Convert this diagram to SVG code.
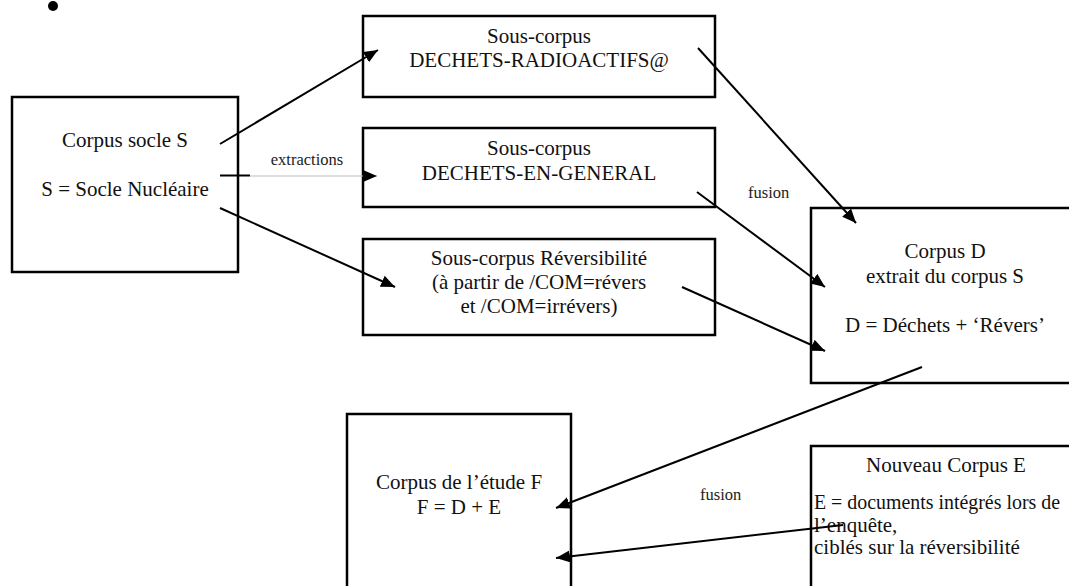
<svg xmlns="http://www.w3.org/2000/svg" width="1069" height="586" viewBox="0 0 1069 586">
<style>
.box{fill:#fff;stroke:#000;stroke-width:2.5}
.t{font-family:"Liberation Serif","Times New Roman",serif;font-size:21px;fill:#111}
.c{text-anchor:middle}
.s{font-family:"Liberation Serif","Times New Roman",serif;font-size:16.5px;fill:#222}
.ln{fill:none;stroke:#000;stroke-width:2}
</style>
<defs>
<marker id="ah" markerUnits="userSpaceOnUse" markerWidth="16" markerHeight="14" refX="14" refY="6" orient="auto">
<path d="M0,0 L14,6 L0,12 Z" fill="#000"/>
</marker>
</defs>
<rect width="1069" height="586" fill="#fff"/>
<circle cx="53" cy="6" r="5" fill="#000"/>

<g id="nodeS">
<rect class="box" x="12" y="97" width="226" height="175"/>
<text class="t c" x="125" y="147">Corpus socle S</text>
<text class="t c" x="125" y="196">S = Socle Nucléaire</text>
</g>
<g id="nodeRadio">
<rect class="box" x="363" y="16" width="352" height="81"/>
<text class="t c" x="539" y="43">Sous-corpus</text>
<text class="t c" x="539" y="67">DECHETS-RADIOACTIFS@</text>
</g>
<g id="nodeGeneral">
<rect class="box" x="363" y="128" width="352" height="79"/>
<text class="t c" x="539" y="155">Sous-corpus</text>
<text class="t c" x="539" y="180">DECHETS-EN-GENERAL</text>
</g>
<g id="nodeRev">
<rect class="box" x="363" y="239" width="352" height="96"/>
<text class="t c" x="539" y="265">Sous-corpus Réversibilité</text>
<text class="t c" x="539" y="289">(à partir de /COM=révers</text>
<text class="t c" x="539" y="313">et /COM=irrévers)</text>
</g>
<g id="nodeD">
<rect class="box" x="811" y="208" width="270" height="175"/>
<text class="t c" x="945" y="258">Corpus D</text>
<text class="t c" x="945" y="283">extrait du corpus S</text>
<text class="t c" x="945" y="332">D = Déchets + ‘Révers’</text>
</g>
<g id="nodeF">
<rect class="box" x="347" y="414" width="224" height="190"/>
<text class="t c" x="459" y="489">Corpus de l’étude F</text>
<text class="t c" x="459" y="514">F = D + E</text>
</g>
<g id="nodeE">
<rect class="box" x="811" y="446" width="270" height="160"/>
<text class="t c" x="946" y="472">Nouveau Corpus E</text>
<text class="t" x="814" y="509" style="font-size:20px" textLength="246" lengthAdjust="spacingAndGlyphs">E = documents intégrés lors de</text>
<text class="t" x="814" y="532">l’enquête,</text>
<text class="t" x="814" y="554">ciblés sur la réversibilité</text>
</g>

<g id="connectors">
<line class="ln" x1="220" y1="144" x2="378" y2="50" marker-end="url(#ah)"/>
<line x1="220" y1="175.5" x2="250" y2="175.5" stroke="#000" stroke-width="2"/>
<line x1="250" y1="176" x2="377" y2="176" stroke="#bbb" stroke-width="1" marker-end="url(#ah)"/>
<line class="ln" x1="220" y1="208" x2="395" y2="287" marker-end="url(#ah)"/>
<line class="ln" x1="698" y1="48" x2="856" y2="223" marker-end="url(#ah)"/>
<line class="ln" x1="697" y1="192" x2="825" y2="287" marker-end="url(#ah)"/>
<line class="ln" x1="682" y1="287" x2="825" y2="351" marker-end="url(#ah)"/>
<line class="ln" x1="922" y1="367" x2="556" y2="508" marker-end="url(#ah)"/>
<line class="ln" x1="843" y1="525" x2="556" y2="558" marker-end="url(#ah)"/>
<text class="s c" x="307" y="165">extractions</text>
<text class="s" x="748" y="198">fusion</text>
<text class="s" x="700" y="500">fusion</text>
</g>
</svg>
